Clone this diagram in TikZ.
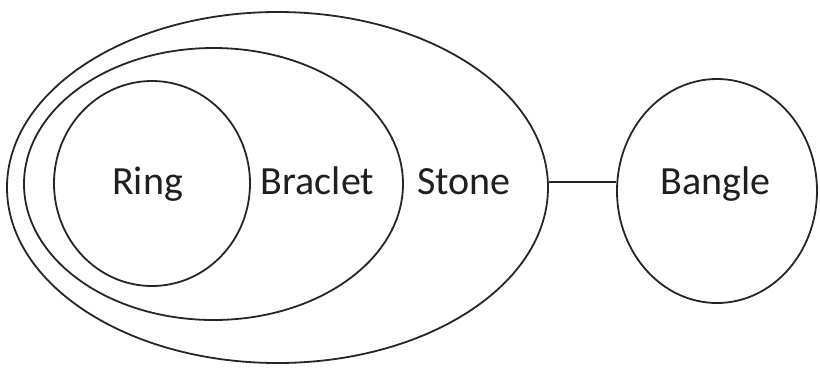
\documentclass[tikz,border=0pt]{standalone}
\usepackage{fontspec}
\setmainfont{Carlito}
\usetikzlibrary{shapes.geometric}
\begin{document}
\begin{tikzpicture}[x=1pt,y=-1pt,
  ring/.style={draw=black!85, line width=1.8pt, ellipse, inner sep=0pt},
  lbl/.style={font=\fontsize{40}{44}\selectfont, text=black!88, anchor=base, inner sep=0pt}]
\useasboundingbox (0,0) rectangle (820,368);
\node[ring, minimum width=541pt, minimum height=351pt] (stone) at (277.5,187.5) {};
\node[ring, minimum width=379pt, minimum height=272pt] (braclet) at (213.5,184) {};
\node[ring, minimum width=196pt, minimum height=205pt] (ring) at (152,183.5) {};
\node[ring, minimum width=200pt, minimum height=224pt] (bangle) at (717,191) {};
\coordinate (mid) at (580,182);
\draw[draw=black!85, line width=1.8pt] (stone.east |- mid) -- (bangle.west |- mid);
\node[lbl] (tring) at (147.5,194) {Ring};
\node[lbl] (tbraclet) at (317.5,194) {Braclet};
\node[lbl] (tstone) at (464,194) {Stone};
\node[lbl] (tbangle) at (715.5,194) {Bangle};
\end{tikzpicture}
\end{document}
